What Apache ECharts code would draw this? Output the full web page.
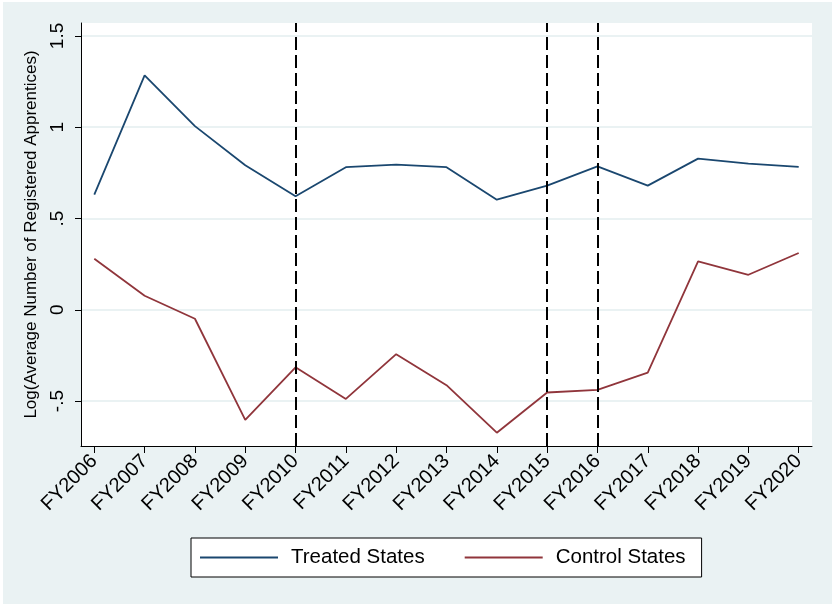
<!DOCTYPE html>
<html>
<head>
<meta charset="utf-8">
<script src="https://cdn.jsdelivr.net/npm/echarts@6/dist/echarts.min.js"></script>
<style>
  html, body { margin: 0; padding: 0; background: #ffffff; }
  #chart { position: absolute; left: 3px; top: 2px; width: 829px; height: 602px; }
</style>
</head>
<body>
<div id="chart"></div>
<script>
// Fiscal years on the horizontal axis
const fiscalYears = ['FY2006','FY2007','FY2008','FY2009','FY2010','FY2011','FY2012',
                     'FY2013','FY2014','FY2015','FY2016','FY2017','FY2018','FY2019','FY2020'];

// Log of the average number of registered apprentices
const treatedStates = [0.631, 1.284, 1.006, 0.792, 0.622, 0.781, 0.795, 0.781,
                       0.603, 0.680, 0.786, 0.680, 0.828, 0.801, 0.783];
const controlStates = [0.280, 0.077, -0.049, -0.603, -0.315, -0.488, -0.243, -0.413,
                       -0.673, -0.453, -0.439, -0.344, 0.265, 0.192, 0.311];

// Years marked with dashed reference lines
const referenceYears = ['FY2010', 'FY2015', 'FY2016'];

// Y-axis tick values
const yTicks = [-0.5, 0, 0.5, 1, 1.5];
const yMin = -0.746, yMax = 1.571;

const FONT = 'Liberation Sans, Arial, Helvetica, sans-serif';

// Stata-style numbers: ".5", "-.5"
function stataNum(v) {
  if (v === 0) return '0';
  const s = String(Math.abs(v)).replace(/^0\./, '.');
  return (v < 0 ? '-' : '') + s;
}

const chart = echarts.init(document.getElementById('chart'), null, { renderer: 'canvas' });

chart.setOption({
  backgroundColor: '#EAF2F3',
  animation: false,
  grid: [
    // plotting grid: categories inset from the plot edges
    { left: 91.3, right: 33.3, top: 21, bottom: 158 },
    // plot region frame: white background, axes lines, y gridlines
    { left: 78, right: 20, top: 21, bottom: 158, show: true,
      backgroundColor: '#ffffff', borderWidth: 0 }
  ],
  xAxis: [
    {
      gridIndex: 0,
      type: 'category',
      data: fiscalYears,
      boundaryGap: false,
      axisLine: { show: false, onZero: false },
      axisTick: { show: true, length: 7, lineStyle: { color: '#000', width: 1 } },
      axisLabel: { rotate: 45, fontSize: 20, color: '#000', fontFamily: FONT, margin: 12 },
      splitLine: { show: false }
    },
    {
      gridIndex: 1,
      type: 'value',
      min: 0, max: 1,
      axisLine: { show: true, onZero: false, lineStyle: { color: '#000', width: 1 } },
      axisTick: { show: false },
      axisLabel: { show: false },
      splitLine: { show: false }
    }
  ],
  yAxis: [
    {
      gridIndex: 0,
      type: 'value',
      min: yMin, max: yMax,
      show: false
    },
    {
      gridIndex: 1,
      type: 'value',
      min: yMin, max: yMax,
      name: 'Log(Average Number of Registered Apprentices)',
      nameLocation: 'middle',
      nameGap: 35,
      nameTextStyle: { fontSize: 17, color: '#000', fontFamily: FONT },
      axisLine: { show: true, onZero: false, lineStyle: { color: '#000', width: 1 } },
      axisTick: { show: true, length: 6, customValues: yTicks,
                  lineStyle: { color: '#000', width: 1 } },
      axisLabel: { rotate: 90, fontSize: 19, color: '#000', fontFamily: FONT, margin: 14,
                   customValues: yTicks, formatter: stataNum },
      splitLine: { show: true, lineStyle: { color: '#EAF2F3', width: 2 } }
    }
  ],
  legend: {
    left: 188,
    top: 536,
    orient: 'horizontal',
    backgroundColor: '#ffffff',
    borderColor: '#000',
    borderWidth: 1,
    borderRadius: 0,
    padding: [9, 16, 9, 9],
    icon: 'rect',
    itemWidth: 78,
    itemHeight: 2,
    itemGap: 40,
    textStyle: { fontSize: 20.5, lineHeight: 21, color: '#000', fontFamily: FONT, padding: [0, 0, 0, 8] },
    data: ['Treated States', 'Control States']
  },
  series: [
    {
      name: 'Treated States',
      type: 'line',
      xAxisIndex: 0, yAxisIndex: 0,
      data: treatedStates,
      symbol: 'none',
      lineStyle: { color: '#1A476F', width: 1.8 },
      itemStyle: { color: '#1A476F' },
      markLine: {
        silent: true,
        symbol: 'none',
        label: { show: false },
        lineStyle: { color: '#000', width: 2, type: [13, 5] },
        data: referenceYears.map(y => ({ xAxis: y }))
      }
    },
    {
      name: 'Control States',
      type: 'line',
      xAxisIndex: 0, yAxisIndex: 0,
      data: controlStates,
      symbol: 'none',
      lineStyle: { color: '#90353B', width: 1.8 },
      itemStyle: { color: '#90353B' }
    }
  ]
});
</script>
</body>
</html>
